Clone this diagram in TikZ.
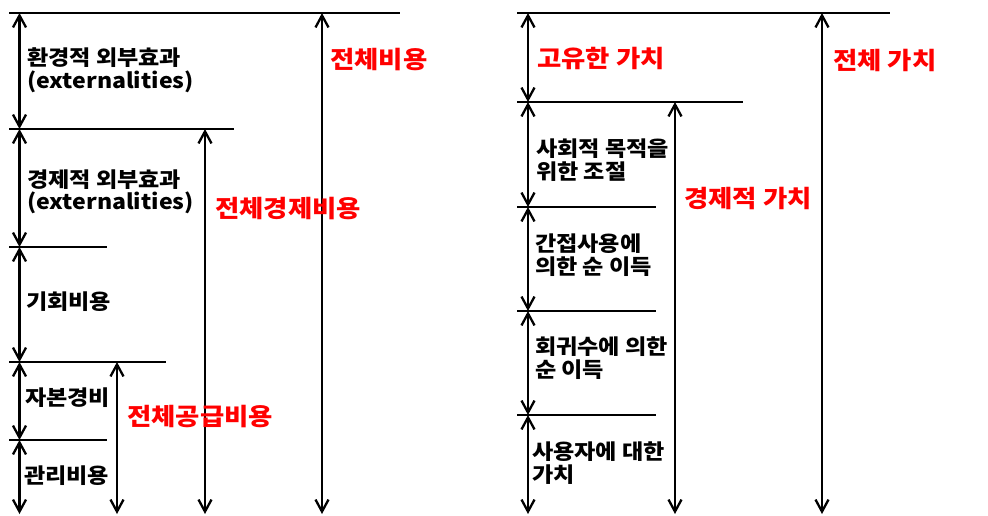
\documentclass[tikz,border=0pt]{standalone}
\usepackage{fontspec}
\setmainfont{Noto Sans CJK KR}[FakeStretch=1.1]
\usetikzlibrary{arrows.meta}
\begin{document}
\begin{tikzpicture}[x=1pt,y=-1pt,
  hline/.style={line width=2.3pt},
  dim/.style={line width=2.3pt, {Straight Barb[length=12pt,width=13pt]}-{Straight Barb[length=12pt,width=13pt]}},
  lbl/.style={anchor=west, inner sep=0pt, font=\fontsize{21}{22.5}\selectfont\bfseries, align=left, text=black},
  big/.style={anchor=west, inner sep=0pt, font=\fontsize{24}{26}\selectfont\bfseries, text=red}]
\useasboundingbox[fill=white] (0,0) rectangle (988,516);
% ---------- left diagram ----------
\draw[hline] (9,13) -- (400,13);
\draw[hline] (9,129) -- (234,129);
\draw[hline] (9,247) -- (107,247);
\draw[hline] (9,362) -- (166,362);
\draw[hline] (9,440) -- (107,440);
\coordinate (a0) at (19.5,13);
\coordinate (a1) at (19.5,129);
\coordinate (a2) at (19.5,247);
\coordinate (a3) at (19.5,362);
\coordinate (a4) at (19.5,440);
\coordinate (a5) at (19.5,514);
\coordinate (b3) at (117,362);
\coordinate (b5) at (117,514);
\coordinate (c1) at (205,129);
\coordinate (c5) at (205,514);
\coordinate (d0) at (322,13);
\coordinate (d5) at (322,514);
\draw[dim] (a0) -- (a1);
\draw[dim] (a1) -- (a2);
\draw[dim] (a2) -- (a3);
\draw[dim] (a3) -- (a4);
\draw[dim] (a4) -- (a5);
\draw[dim] (b3) -- (b5);
\draw[dim] (c1) -- (c5);
\draw[dim] (d0) -- (d5);
\node[lbl] (l1) at (27,70) {환경적 외부효과\\(externalities)};
\node[lbl] (l2) at (27,192) {경제적 외부효과\\(externalities)};
\node[lbl] (l3) at (26,302) {기회비용};
\node[lbl] (l4) at (25,398) {자본경비};
\node[lbl] (l5) at (24,476) {관리비용};
\node[big] (r1) at (330,60) {전체비용};
\node[big] (r2) at (215,209) {전체경제비용};
\node[big] (r3) at (127,417) {전체공급비용};
% ---------- right diagram ----------
\draw[hline] (517,13) -- (890,13);
\draw[hline] (517,102) -- (743,102);
\draw[hline] (517,207) -- (656,207);
\draw[hline] (517,311) -- (656,311);
\draw[hline] (517,415) -- (656,415);
\coordinate (e0) at (528,13);
\coordinate (e1) at (528,102);
\coordinate (e2) at (528,207);
\coordinate (e3) at (528,311);
\coordinate (e4) at (528,415);
\coordinate (e5) at (528,514);
\coordinate (f1) at (675,102);
\coordinate (f5) at (675,514);
\coordinate (g0) at (822,13);
\coordinate (g5) at (822,514);
\draw[dim] (e0) -- (e1);
\draw[dim] (e1) -- (e2);
\draw[dim] (e2) -- (e3);
\draw[dim] (e3) -- (e4);
\draw[dim] (e4) -- (e5);
\draw[dim] (f1) -- (f5);
\draw[dim] (g0) -- (g5);
\node[big] (v1) at (537,58) {고유한 가치};
\node[big] (v2) at (833,60) {전체 가치};
\node[big] (v3) at (684,198) {경제적 가치};
\node[lbl] (m1) at (536,160) {사회적 목적을\\위한 조절};
\node[lbl] (m2) at (535,255) {간접사용에\\의한 순 이득};
\node[lbl] (m3) at (535,358) {회귀수에 의한\\순 이득};
\node[lbl] (m4) at (532,463) {사용자에 대한\\가치};
\end{tikzpicture}
\end{document}
